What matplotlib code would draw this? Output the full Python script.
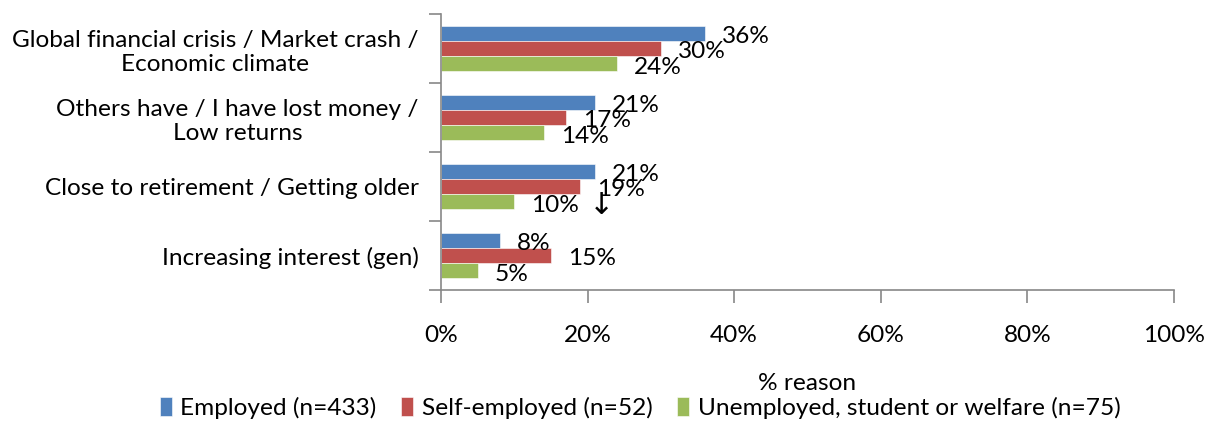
import matplotlib
matplotlib.use("Agg")
import matplotlib.pyplot as plt
import numpy as np

categories = ["Global financial crisis / Market crash /\nEconomic climate",
              "Others have / I have lost money /\nLow returns",
              "Close to retirement / Getting older",
              "Increasing interest (gen)"]
series_names = ["Employed (n=433)", "Self-employed (n=52)", "Unemployed, student or welfare (n=75)"]
employed = [36, 21, 21, 8]
self_employed = [30, 17, 19, 15]
unemployed = [24, 14, 10, 5]
colors = ["#4F81BD", "#C0504D", "#9BBB59"]
xticks = [0, 20, 40, 60, 80, 100]
xtick_labels = ["0%", "20%", "40%", "60%", "80%", "100%"]

plt.rcParams['font.family'] = ['Lato', 'DejaVu Sans']
FS = 17.6

fig = plt.figure(figsize=(12.1, 4.21), dpi=100)
ax = fig.add_axes([441/1210, 1-290/421, (1174-441)/1210, (290-14)/421])

n = len(categories)
ypos = np.arange(n)
bh = 0.22
offsets = [-bh, 0, bh]
series = [employed, self_employed, unemployed]
for s, (vals, col, name) in enumerate(zip(series, colors, series_names)):
    ax.barh(ypos + offsets[s], vals, height=bh, color=col, label=name,
            edgecolor='white', linewidth=0.4)
    for yy, v in zip(ypos + offsets[s], vals):
        ax.annotate(f"{v}%", xy=(v, yy), xytext=(12.2, -2.5), textcoords='offset points',
                    ha='left', va='center', fontsize=FS)

# arrow marker next to 19% label
ax.annotate("\u2193", xy=(self_employed[2], 2 + bh), xytext=(6.5, -3), textcoords='offset points',
            ha='left', va='center', fontsize=FS + 4, family='DejaVu Sans')

ax.set_xlim(0, 100)
ax.set_ylim(n - 0.5, -0.5)
ax.set_xticks(xticks)
ax.set_xticklabels(xtick_labels, fontsize=FS)
ax.set_yticks(np.arange(-0.5, n, 1))
ax.set_yticklabels([])
ax.set_yticks(ypos, minor=True)
ax.set_yticklabels(categories, minor=True, fontsize=FS, multialignment='center')
ax.tick_params(axis='y', which='minor', length=0, pad=16)
ax.tick_params(axis='y', which='major', length=9, color='#888888', width=1.2)
ax.tick_params(axis='x', length=9, color='#888888', width=1.2, pad=16, direction='out')

for sp in ['top', 'right']:
    ax.spines[sp].set_visible(False)
for sp in ['left', 'bottom']:
    ax.spines[sp].set_color('#888888')
    ax.spines[sp].set_linewidth(1.2)

fig.text(807/1210, 1-383/421, "% reason", ha='center', va='center', fontsize=FS)
fig.legend(loc='center', bbox_to_anchor=(640/1210, 1-408/421), ncol=3, frameon=False,
           fontsize=FS, handlelength=0.5, handleheight=0.8, handletextpad=0.35,
           columnspacing=1.0, borderaxespad=0)

fig.savefig("out.png", dpi=100)
